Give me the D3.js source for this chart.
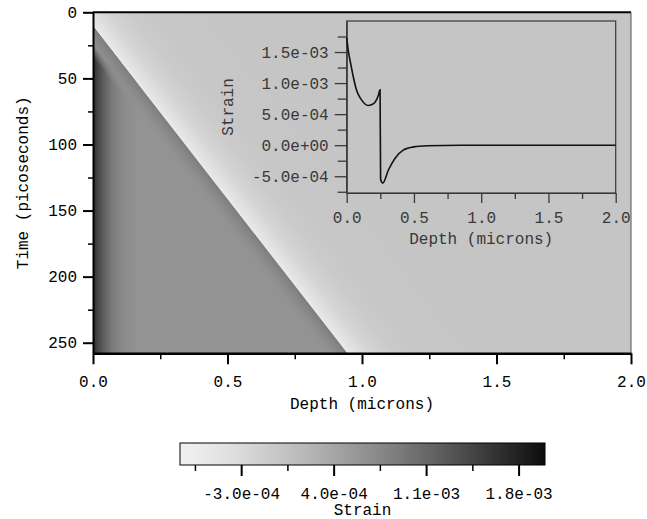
<!DOCTYPE html>
<html><head><meta charset="utf-8">
<script src="https://cdn.jsdelivr.net/npm/d3@7"></script>
<style>
body{margin:0;background:#fff}
svg{display:block}
text{font-family:"Liberation Mono","DejaVu Sans Mono",monospace;font-size:16px}
</style>
</head><body>
<svg id="c" width="647" height="519"></svg>
<script>
// ---------- data ----------
const depthTicks = [0.0, 0.5, 1.0, 1.5, 2.0];
const depthTickLabels = ["0.0", "0.5", "1.0", "1.5", "2.0"];
const depthMinorTicks = [0.25, 0.75, 1.25, 1.75];
const timeTicks = [0, 50, 100, 150, 200, 250];
const timeMinorTicks = [25, 75, 125, 175, 225];

// strain wave front (depth vs time)
const frontDepth = [0.0, 0.945];
const frontTime = [10.5, 258];

// strain near the surface (behind the front)
const surfaceDepth = [0, 0.012, 0.03, 0.05, 0.074, 0.11, 0.16];
const surfaceStrain = [1.73e-3, 1.52e-3, 1.31e-3, 1.09e-3, 0.88e-3, 0.73e-3, 0.64e-3];
// strain just behind the front (offset from the front, microns)
const behindOffset = [-0.09, -0.05, -0.02, 0];
const behindStrain = [0.62e-3, 0.68e-3, 0.78e-3, 0.87e-3];
// strain ahead of the front (offset from the front, microns)
const aheadOffset = [0, 0.017, 0.04, 0.09, 0.17, 0.25, 0.4, 0.6];
const aheadStrain = [-6.1e-4, -5.0e-4, -4.0e-4, -2.1e-4, -0.8e-4, -0.27e-4, -0.05e-4, 0];

// inset profile
const insetDepth = [0, 0.012, 0.03, 0.05, 0.074, 0.11, 0.16, 0.2, 0.235, 0.248, 0.252, 0.268, 0.31, 0.36, 0.42, 0.5, 0.6, 0.84, 2.0];
const insetStrain = [1.73e-3, 1.52e-3, 1.31e-3, 1.09e-3, 0.88e-3, 0.73e-3, 0.64e-3, 0.67e-3, 0.80e-3, 0.89e-3, -0.55e-3, -0.61e-3, -0.40e-3, -0.21e-3, -0.08e-3, -0.027e-3, -0.01e-3, 0, 0];
const insetTicks = [-5e-4, 0, 5e-4, 1e-3, 1.5e-3];
const insetTickLabels = ["-5.0e-04", "0.0e+00", "5.0e-04", "1.0e-03", "1.5e-03"];
const insetMinorTicks = [-7.5e-4, -2.5e-4, 2.5e-4, 7.5e-4, 1.25e-3, 1.75e-3];
const insetStrainDomain = [-7.7e-4, 2.0e-3];

// colour bar
const strainDomain = [-7.63e-4, 2.0e-3];
const colorTicks = [-3.0e-4, 4.0e-4, 1.1e-3, 1.8e-3];
const colorTickLabels = ["-3.0e-04", "4.0e-04", "1.1e-03", "1.8e-03"];
const colorMinorTicks = [-6.5e-4, 0.5e-4, 7.5e-4, 1.45e-3];

// ---------- drawing ----------
const svg = d3.select("#c");
const defs = svg.append("defs");

const x = d3.scaleLinear([0, 2], [93, 631]);
const y = d3.scaleLinear([0, 258], [12.3, 353.3]);
const grayOf = t => { const g = Math.round(240 - 228 * Math.pow(Math.max(0, Math.min(1, t)), 1.3)); return d3.rgb(g, g, g).formatHex(); };
const color = d3.scaleSequential(strainDomain, grayOf);

// front geometry in pixels
const fx0 = x(frontDepth[0]), fy0 = y(frontTime[0]);
const fpx = x(frontDepth[1]) - fx0, fpy = y(frontTime[1]) - fy0;
const flen = Math.hypot(fpx, fpy), dxu = fpx / flen, dyu = fpy / flen;

function shearGradient(id, offsets, strains, opac) {
  const umin = d3.min(offsets), umax = d3.max(offsets);
  const wMin = (x(umin) - x(0)) * dyu, wMax = (x(umax) - x(0)) * dyu;
  const g = defs.append("linearGradient").attr("id", id).attr("gradientUnits", "userSpaceOnUse")
    .attr("x1", fx0 + dyu * wMin).attr("y1", fy0 - dxu * wMin)
    .attr("x2", fx0 + dyu * wMax).attr("y2", fy0 - dxu * wMax);
  offsets.forEach((o, i) => g.append("stop")
    .attr("offset", (o - umin) / (umax - umin))
    .attr("stop-color", color(strains[i]))
    .attr("stop-opacity", opac ? opac[i] : 1));
}
shearGradient("ahead", aheadOffset, aheadStrain);
shearGradient("behind", behindOffset, behindStrain, behindOffset.map((o, i) => i === 0 ? 0 : 1));

const sg = defs.append("linearGradient").attr("id", "surface").attr("gradientUnits", "userSpaceOnUse")
  .attr("x1", x(surfaceDepth[0])).attr("y1", 0).attr("x2", x(surfaceDepth[surfaceDepth.length - 1])).attr("y2", 0);
surfaceDepth.forEach((d, i) => sg.append("stop")
  .attr("offset", (d - surfaceDepth[0]) / (surfaceDepth[surfaceDepth.length - 1] - surfaceDepth[0]))
  .attr("stop-color", color(surfaceStrain[i])));

const triPts = [[frontDepth[0], frontTime[0]], [frontDepth[1], frontTime[1]], [0, frontTime[1]]]
  .map(p => [x(p[0]), y(p[1])]);
defs.append("clipPath").attr("id", "tri").append("polygon").attr("points", triPts.join(" "));

const plot = svg.append("g");
// background (ahead of front)
plot.append("rect").attr("x", x(0)).attr("y", y(0)).attr("width", x(2) - x(0)).attr("height", y(258) - y(0))
  .attr("fill", "url(#ahead)");
// behind-front triangle
plot.append("polygon").attr("points", triPts.join(" ")).attr("fill", color(behindStrain[0]));
plot.append("rect").attr("clip-path", "url(#tri)")
  .attr("x", x(surfaceDepth[0])).attr("y", y(frontTime[0]))
  .attr("width", x(surfaceDepth[surfaceDepth.length - 1]) - x(surfaceDepth[0]))
  .attr("height", y(frontTime[1]) - y(frontTime[0])).attr("fill", "url(#surface)");
plot.append("polygon").attr("points", triPts.join(" ")).attr("fill", "url(#behind)");

// frame: top thick, right thin
svg.append("line").attr("x1", x(0)).attr("x2", x(2)).attr("y1", y(0)).attr("y2", y(0)).attr("stroke", "#000").attr("stroke-width", 2);
svg.append("line").attr("x1", x(2)).attr("x2", x(2)).attr("y1", y(0)).attr("y2", y(258)).attr("stroke", "#555").attr("stroke-width", 1);

// main axes
function styleAxis(g, w) {
  g.select(".domain").attr("stroke", "#000").attr("stroke-width", w);
  g.selectAll(".tick line").attr("stroke", "#000").attr("stroke-width", 2);
  g.selectAll("text").attr("fill", "#000").style("font-size", "16px").attr("font-family", null);
}
const yAxisG = svg.append("g").attr("transform", `translate(${x(0)},0)`)
  .call(d3.axisLeft(y).tickValues(timeTicks).tickSize(10).tickSizeOuter(0).tickPadding(6).tickFormat(d3.format("d")));
styleAxis(yAxisG, 2);
const yMinor = svg.append("g").attr("transform", `translate(${x(0)},0)`)
  .call(d3.axisLeft(y).tickValues(timeMinorTicks).tickSize(5).tickFormat(""));
yMinor.select(".domain").remove(); yMinor.selectAll("line").attr("stroke-width", 1.5);

const xAxisG = svg.append("g").attr("transform", `translate(0,${y(258)})`)
  .call(d3.axisBottom(x).tickValues(depthTicks).tickSize(11).tickSizeOuter(0).tickPadding(11).tickFormat((d, i) => depthTickLabels[i]));
styleAxis(xAxisG, 2.5);
const xMinor = svg.append("g").attr("transform", `translate(0,${y(258)})`)
  .call(d3.axisBottom(x).tickValues(depthMinorTicks).tickSize(6).tickFormat(""));
xMinor.select(".domain").remove(); xMinor.selectAll("line").attr("stroke-width", 1.5);

svg.append("text").attr("x", (x(0) + x(2)) / 2).attr("y", 409).attr("text-anchor", "middle").text("Depth (microns)");
svg.append("text").attr("transform", `translate(27.5,${(y(0) + y(258)) / 2}) rotate(-90)`).attr("text-anchor", "middle").text("Time (picoseconds)");

// ---------- inset ----------
const ix = d3.scaleLinear([0, 2], [346.7, 615.7]);
const iy = d3.scaleLinear(insetStrainDomain, [193, 21]);
const inkC = "#383838";
const inset = svg.append("g");
inset.append("rect").attr("x", ix(0)).attr("y", iy(insetStrainDomain[1])).attr("width", ix(2) - ix(0))
  .attr("height", iy(insetStrainDomain[0]) - iy(insetStrainDomain[1])).attr("fill", "none").attr("stroke", inkC).attr("stroke-width", 1.2);
function styleInset(g) {
  g.select(".domain").attr("stroke", inkC).attr("stroke-width", 1.2);
  g.selectAll(".tick line").attr("stroke", inkC).attr("stroke-width", 1.3);
  g.selectAll("text").attr("fill", inkC).style("font-size", "16px").attr("font-family", null);
}
const iyA = inset.append("g").attr("transform", `translate(${ix(0)},0)`)
  .call(d3.axisLeft(iy).tickValues(insetTicks).tickSize(12).tickSizeOuter(0).tickPadding(6).tickFormat((d, i) => insetTickLabels[i]));
styleInset(iyA);
const iyM = inset.append("g").attr("transform", `translate(${ix(0)},0)`)
  .call(d3.axisLeft(iy).tickValues(insetMinorTicks).tickSize(9).tickFormat(""));
iyM.select(".domain").remove(); styleInset(iyM);
const ixA = inset.append("g").attr("transform", `translate(0,${iy(insetStrainDomain[0])})`)
  .call(d3.axisBottom(ix).tickValues(depthTicks).tickSize(10).tickSizeOuter(0).tickPadding(9).tickFormat((d, i) => depthTickLabels[i]));
styleInset(ixA);
const ixM = inset.append("g").attr("transform", `translate(0,${iy(insetStrainDomain[0])})`)
  .call(d3.axisBottom(ix).tickValues(depthMinorTicks).tickSize(6).tickFormat(""));
ixM.select(".domain").remove(); styleInset(ixM);

inset.append("path").datum(insetDepth.map((d, i) => [d, insetStrain[i]]))
  .attr("d", d3.line().x(d => ix(d[0])).y(d => iy(d[1])).curve(d3.curveMonotoneX))
  .attr("fill", "none").attr("stroke", "#111").attr("stroke-width", 1.6);
inset.append("text").attr("x", (ix(0) + ix(2)) / 2).attr("y", 243.5).attr("text-anchor", "middle").attr("fill", inkC).text("Depth (microns)");
inset.append("text").attr("transform", `translate(233,${(iy(insetStrainDomain[0]) + iy(insetStrainDomain[1])) / 2}) rotate(-90)`)
  .attr("text-anchor", "middle").attr("fill", inkC).text("Strain");

// ---------- colour bar ----------
const cb = d3.scaleLinear(strainDomain, [180, 545]);
const cg = defs.append("linearGradient").attr("id", "cbar").attr("gradientUnits", "userSpaceOnUse")
  .attr("x1", cb(strainDomain[0])).attr("x2", cb(strainDomain[1])).attr("y1", 0).attr("y2", 0);
d3.range(0, 1.0001, 0.05).forEach(t => cg.append("stop").attr("offset", t)
  .attr("stop-color", color(strainDomain[0] + t * (strainDomain[1] - strainDomain[0]))));
svg.append("rect").attr("x", cb(strainDomain[0])).attr("y", 443).attr("width", cb(strainDomain[1]) - cb(strainDomain[0]))
  .attr("height", 22).attr("fill", "url(#cbar)").attr("stroke", "#000").attr("stroke-width", 1);
const cA = svg.append("g").attr("transform", "translate(0,465)")
  .call(d3.axisBottom(cb).tickValues(colorTicks).tickSize(11).tickPadding(12).tickFormat((d, i) => colorTickLabels[i]));
cA.select(".domain").remove();
cA.selectAll(".tick line").attr("stroke", "#000").attr("stroke-width", 2);
cA.selectAll("text").attr("fill", "#000").style("font-size", "16px").attr("font-family", null);
const cM = svg.append("g").attr("transform", "translate(0,465)")
  .call(d3.axisBottom(cb).tickValues(colorMinorTicks).tickSize(6).tickFormat(""));
cM.select(".domain").remove(); cM.selectAll("line").attr("stroke", "#000").attr("stroke-width", 1.5);
svg.append("text").attr("x", (cb(strainDomain[0]) + cb(strainDomain[1])) / 2).attr("y", 515).attr("text-anchor", "middle").text("Strain");
</script>
</body></html>
